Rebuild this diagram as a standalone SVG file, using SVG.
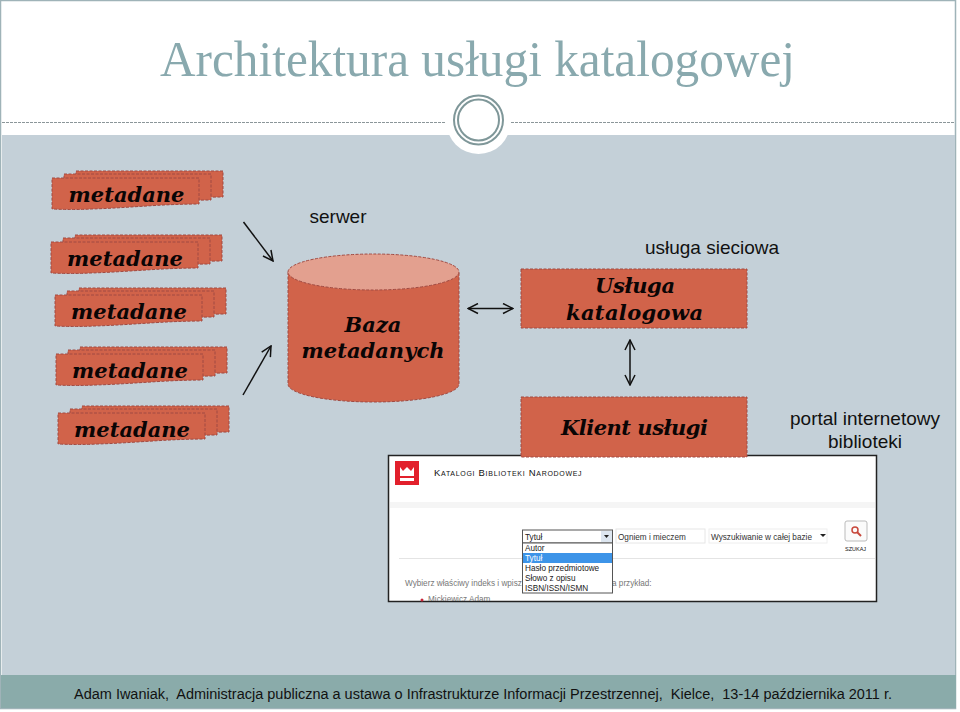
<svg xmlns="http://www.w3.org/2000/svg" xmlns:xlink="http://www.w3.org/1999/xlink" width="960" height="712" viewBox="0 0 960 712">
<style>
.shape{fill:#d1634a;stroke:#a04a42;stroke-width:1;stroke-dasharray:3 1.5}
.top{fill:#e3a08f}
.lab{font-family:"DejaVu Serif",serif;font-weight:bold;font-style:italic;font-size:21px;fill:#0a0505;text-anchor:middle}
.sans{font-family:"Liberation Sans",Arial,sans-serif;fill:#111}
.cap{font-size:19px;text-anchor:middle}
.foot{font-size:15.5px;white-space:pre}
.shot{font-size:8.2px;fill:#333}
.con{fill:none;stroke:#111;stroke-width:1.5}
</style>
<defs>
<path id="doc" d="M0 0H147V26C110 26 75 30 40 31Q20 32 0 31Z" class="shape"/>
<g id="stack">
<use xlink:href="#doc" x="24" y="-7"/>
<use xlink:href="#doc" x="12" y="-4"/>
<use xlink:href="#doc"/>
</g>
<marker id="open" viewBox="0 0 12 12" refX="11" refY="6" markerWidth="12" markerHeight="12" orient="auto-start-reverse" markerUnits="userSpaceOnUse">
<path d="M1 1L11 6L1 11" fill="none" stroke="#111" stroke-width="1.5"/>
</marker>
<clipPath id="frame"><rect x="389" y="456" width="487" height="145"/></clipPath>
</defs>
<rect width="960" height="712" fill="#fff"/>
<rect x="0.5" y="0.5" width="955" height="708" fill="none" stroke="#9fb3b8" stroke-width="1.5"/>
<rect x="2" y="135" width="953" height="540" fill="#c4d0d8"/>
<rect x="1" y="675" width="955" height="33" fill="#8aabaa"/>
<path d="M2 122.500H445M511 122.500H955" stroke="#8b9699" stroke-width="1" stroke-dasharray="3 1" fill="none"/>
<circle cx="478.500" cy="122" r="32" fill="#fff"/>
<circle cx="478.500" cy="120" r="24.500" fill="none" stroke="#7f9799" stroke-width="2"/>
<circle cx="478.500" cy="120" r="20.500" fill="none" stroke="#7f9799" stroke-width="2"/>
<text x="477.500" y="76" font-family="Liberation Serif,serif" font-size="50" fill="#89a9ae" text-anchor="middle" textLength="635" lengthAdjust="spacingAndGlyphs">Architektura usługi katalogowej</text>

<g id="connectors">
<path class="con" d="M243.500 222L273 261" marker-end="url(#open)"/>
<path class="con" d="M243 395L271 346" marker-end="url(#open)"/>
<path class="con" d="M468 308.500H513" marker-start="url(#open)" marker-end="url(#open)"/>
<path class="con" d="M630 340V385" marker-start="url(#open)" marker-end="url(#open)"/>
</g>

<g id="stack1"><use xlink:href="#stack" x="52" y="178"/><text class="lab" x="126.500" y="202">metadane</text></g>
<g id="stack2"><use xlink:href="#stack" x="51" y="242"/><text class="lab" x="125" y="266">metadane</text></g>
<g id="stack3"><use xlink:href="#stack" x="55" y="295"/><text class="lab" x="129" y="319">metadane</text></g>
<g id="stack4"><use xlink:href="#stack" x="56" y="354"/><text class="lab" x="130" y="378">metadane</text></g>
<g id="stack5"><use xlink:href="#stack" x="58" y="413"/><text class="lab" x="132" y="437">metadane</text></g>

<g id="baza">
<path class="shape" d="M288 272V384C288 394 326 402 373.500 402S459 394 459 384V272Z"/>
<ellipse class="shape top" cx="373.500" cy="272" rx="85.500" ry="18"/>
<text class="lab" x="373" y="332">Baza</text>
<text class="lab" x="373" y="358" textLength="143">metadanych</text>
</g>
<text class="sans cap" x="338" y="222.500">serwer</text>
<g id="usluga">
<rect class="shape" x="521" y="269" width="226" height="59"/>
<text class="lab" x="635" y="293" textLength="80">Usługa</text>
<text class="lab" x="634.500" y="320" textLength="137">katalogowa</text>
</g>
<text class="sans cap" x="712" y="254">usługa sieciowa</text>
<text class="sans cap" x="865" y="425">portal internetowy</text>
<text class="sans cap" x="865" y="448">biblioteki</text>

<g id="screenshot">
<rect x="388.500" y="455.500" width="488" height="146" fill="#fff" stroke="#222" stroke-width="1.500"/>
<rect x="395" y="461" width="24" height="24" fill="#e2202c"/>
<path d="M400 467V476H414V467L411 471L407 467L403 471Z M400 478H414V481H400Z" fill="#fff"/>
<text class="sans" x="434" y="476" font-size="9.500" letter-spacing="0.700" fill="#555" font-variant="small-caps">Katalogi Biblioteki Narodowej</text>
<rect x="390" y="502" width="485" height="6" fill="#f5f5f5"/>
<path d="M399 558.500H875" stroke="#e4e4e4" fill="none"/>
<rect x="616" y="529" width="89" height="14" fill="#fff" stroke="#e6e6e6"/>
<text class="sans shot" x="618" y="539.500">Ogniem i mieczem</text>
<rect x="709" y="529" width="118" height="14" fill="#fff" stroke="#eee"/>
<text class="sans shot" x="711" y="539.500">Wyszukiwanie w całej bazie</text>
<path d="M820 534H826L823 537Z" fill="#222"/>
<rect x="845" y="521" width="22" height="20" rx="2" fill="#fbfbfb" stroke="#bbb"/>
<circle cx="855" cy="530" r="3" fill="none" stroke="#c8483c" stroke-width="1.500"/>
<path d="M857 532L861 536" stroke="#c8483c" stroke-width="2"/>
<text class="sans" x="845" y="551" font-size="5.500" fill="#666">SZUKAJ</text>
<text class="sans shot" x="405" y="586" style="fill:#777">Wybierz właściwy indeks i wpisz</text>
<text class="sans shot" x="612" y="586" style="fill:#777">a przykład:</text>
<circle cx="422" cy="600" r="1.500" fill="#c8283c"/>
<g clip-path="url(#frame)"><text class="sans shot" x="428" y="602" style="fill:#777">Mickiewicz Adam</text></g>
<rect x="522.500" y="530" width="90" height="13" fill="#fff" stroke="#555"/>
<rect x="601" y="531" width="11" height="11" fill="#dde6f0"/>
<path d="M604 535H609L606.500 538Z" fill="#222"/>
<text class="sans shot" x="525" y="539.500" style="fill:#222">Tytuł</text>
<rect x="522.500" y="543" width="90" height="50" fill="#fff" stroke="#555"/>
<rect x="523" y="553" width="89" height="10" fill="#3d94e8"/>
<text class="sans shot" x="525" y="551" style="fill:#222">Autor</text>
<text class="sans shot" x="525" y="561" style="fill:#fff">Tytuł</text>
<text class="sans shot" x="525" y="571" style="fill:#222">Hasło przedmiotowe</text>
<text class="sans shot" x="525" y="581" style="fill:#222">Słowo z opisu</text>
<text class="sans shot" x="525" y="591" style="fill:#222">ISBN/ISSN/ISMN</text>
</g>
<g id="klient">
<rect class="shape" x="521" y="397" width="226" height="60"/>
<text class="lab" x="634.500" y="435" textLength="147">Klient usługi</text>
</g>
<text class="sans foot" x="74" y="699" textLength="818" lengthAdjust="spacingAndGlyphs">Adam Iwaniak,  Administracja publiczna a ustawa o Infrastrukturze Informacji Przestrzennej,  Kielce,  13-14 października 2011 r.</text>
</svg>
